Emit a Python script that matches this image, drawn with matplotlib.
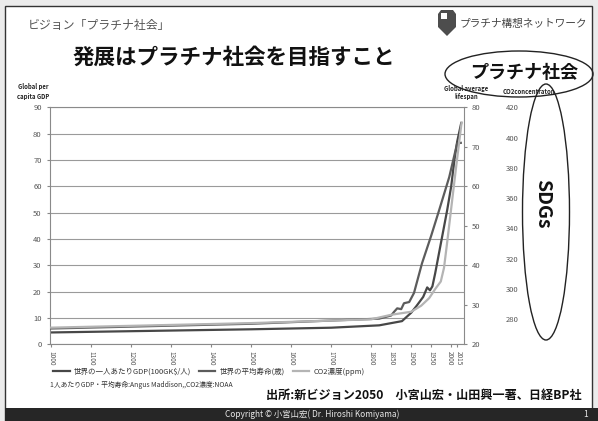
import matplotlib
matplotlib.use("Agg")
import matplotlib.pyplot as plt
import matplotlib.transforms as mtransforms
from matplotlib.patches import Ellipse, Rectangle, Polygon

plt.rcParams['font.family'] = ['Noto Sans CJK JP', 'DejaVu Sans']

# values
gdp_years = [1000, 1500, 1600, 1700, 1820, 1877, 1900, 1913, 1930, 1940, 1947, 1953,
             1960, 1970, 1980, 1990, 2000, 2008, 2015, 2025]
gdp_values = [4.5, 5.7, 6.0, 6.3, 7.2, 8.8, 12.0, 14.5, 18.0, 21.6, 20.5, 22.0,
              27.0, 35.0, 43.0, 51.0, 60.0, 70.0, 77.0, 84.0]

life_years = [1000, 1500, 1820, 1850, 1857, 1865, 1875, 1882, 1895, 1907, 1927,
              1950, 1970, 1995, 2015, 2024]
life_values = [24.0, 25.2, 26.5, 27.3, 28.2, 29.1, 28.9, 30.4, 30.7, 33.0, 40.5,
               47.5, 54.0, 62.3, 70.9, 71.0]

co2_years = [1000, 1500, 1800, 1850, 1900, 1925, 1945, 1960, 1974, 1982, 1990,
             1999, 2012, 2026]
co2_values = [274.5, 277.5, 280.0, 283.0, 285.0, 289.0, 294.0, 300.0, 305.0, 314.0,
              331.0, 351.0, 380.0, 410.0]

x_ticks = [1000, 1100, 1200, 1300, 1400, 1500, 1600, 1700, 1800,
           1850, 1900, 1950, 2000, 2015]
gdp_ticks = list(range(0, 100, 10))
life_ticks = list(range(20, 90, 10))
co2_ticks = list(range(280, 440, 20))

legend_labels = ['世界の一人あたりGDP(100GK$/人)', '世界の平均寿命(歳)', 'CO2濃度(ppm)']

W, H = 598, 421
fig = plt.figure(figsize=(W / 100, H / 100), dpi=100, facecolor='#ebebeb')


def fx(x):
    return x / W


def fy(y):
    return 1 - y / H


# slide frame and footer bar
fig.patches.append(Rectangle((fx(5), 0), fx(592) - fx(5), fy(6), transform=fig.transFigure,
                             facecolor='white', edgecolor='#333333', lw=1.0, zorder=-5))
fig.patches.append(Rectangle((fx(5), 0), 1 - fx(5), fy(408), transform=fig.transFigure,
                             facecolor='#262626', edgecolor='none', zorder=-4))

# map pin logo
pin = [(438, 14), (441, 10), (453, 10), (456, 14), (456, 27), (447, 36), (438, 27)]
fig.patches.append(Polygon([(fx(a), fy(b)) for a, b in pin], closed=True, transform=fig.transFigure,
                           facecolor='#4d4d4d', edgecolor='none', zorder=2))
fig.patches.append(Rectangle((fx(441), fy(19)), fx(6), fx(6) * W / H, transform=fig.transFigure,
                             facecolor='white', edgecolor='none', zorder=3))

# axes
ax = fig.add_axes([fx(50), fy(344.3), (464 - 50) / W, (344.3 - 107.3) / H])
ax.set_facecolor('none')
ax.plot(gdp_years, gdp_values, color='#474747', lw=1.6, label=legend_labels[0])
ax.set_xlim(997, 2032)
ax.set_ylim(0, 90)
ax.set_yticks(gdp_ticks)
ax.set_xticks(x_ticks)
ax.set_xticklabels([str(t) for t in x_ticks], rotation=270, fontsize=4.6, color='#555555')
ax.tick_params(axis='y', labelsize=5.5, labelcolor='#555555', length=2, pad=4, color='#888888')
ax.tick_params(axis='x', length=2.5, pad=2, color='#888888')
ax.grid(axis='y', color='#9a9a9a', lw=0.8)
ax.set_axisbelow(True)
for s in ['left', 'bottom', 'top']:
    ax.spines[s].set_color('#8a8a8a')
ax.spines['right'].set_visible(False)

# nudge the two crowded labels apart
xlabels = ax.get_xticklabels()
xlabels[-2].set_transform(xlabels[-2].get_transform()
                          + mtransforms.ScaledTranslation(-1.2 / 100, 0, fig.dpi_scale_trans))
xlabels[-1].set_transform(xlabels[-1].get_transform()
                          + mtransforms.ScaledTranslation(1.2 / 100, 0, fig.dpi_scale_trans))

ax2 = ax.twinx()
ax2.plot(life_years, life_values, color='#5c5c5c', lw=1.6, label=legend_labels[1])
ax2.set_ylim(20, 80)
ax2.set_yticks(life_ticks)
ax2.tick_params(axis='y', labelsize=5.5, labelcolor='#555555', length=2.5, pad=3, color='#888888')
ax2.spines['right'].set_color('#8a8a8a')
for s in ['left', 'bottom', 'top']:
    ax2.spines[s].set_visible(False)

ax3 = ax.twinx()
ax3.plot(co2_years, co2_values, color='#b4b4b4', lw=1.6, label=legend_labels[2])
ax3.set_ylim(263.5, 419.6)
ax3.set_yticks(co2_ticks)
ax3.tick_params(axis='y', labelsize=5.5, labelcolor='#555555', length=0, pad=30)
for s in ax3.spines.values():
    s.set_visible(False)

# axis titles
fig.text(fx(33), fy(86), 'Global per', fontsize=4.3, weight='bold', ha='center', va='center', color='#222222')
fig.text(fx(33), fy(97), 'capita GDP', fontsize=4.3, weight='bold', ha='center', va='center', color='#222222')
fig.text(fx(466), fy(88), 'Global average', fontsize=4.3, weight='bold', ha='center', va='center', color='#222222')
fig.text(fx(466), fy(96), 'lifespan', fontsize=4.3, weight='bold', ha='center', va='center', color='#222222')
fig.text(fx(529), fy(92), 'CO2concentraton', fontsize=4.3, weight='bold', ha='center', va='center', color='#222222')

# legend and notes
handles = ax.get_lines() + ax2.get_lines() + ax3.get_lines()
fig.legend(handles, legend_labels, loc='center left', bbox_to_anchor=(fx(53), fy(372)), ncol=3,
           frameon=False, fontsize=5.4, handlelength=2.2, columnspacing=1.0, handletextpad=0.6,
           labelcolor='#333333', borderaxespad=0, borderpad=0)
fig.text(fx(50), fy(385), '1人あたりGDP・平均寿命:Angus Maddison,,CO2濃度:NOAA', fontsize=4.9,
         ha='left', va='center', color='#333333')
fig.text(fx(582), fy(395), '出所:新ビジョン2050　小宮山宏・山田興一著、日経BP社', fontsize=8.7,
         weight='bold', ha='right', va='center', color='#111111')
fig.text(fx(312), fy(414.5), 'Copyright © 小宮山宏( Dr. Hiroshi Komiyama)', fontsize=6,
         ha='center', va='center', color='#e8e8e8')
fig.text(fx(586), fy(414.5), '1', fontsize=6, ha='center', va='center', color='#e8e8e8')

# headings
fig.text(fx(28), fy(25), 'ビジョン「プラチナ社会」', fontsize=8.6, ha='left', va='center', color='#555555')
fig.text(fx(73), fy(57.5), '発展はプラチナ社会を目指すこと', fontsize=15.5, weight='bold',
         ha='left', va='center', color='#111111')
fig.text(fx(460), fy(24), 'プラチナ構想ネットワーク', fontsize=7.7, ha='left', va='center', color='#444444')

# ellipses
fig.patches.append(Ellipse((fx(519), fy(74)), 148 / W, 46 / H, transform=fig.transFigure,
                           facecolor='none', edgecolor='#222222', lw=1.0, zorder=5))
fig.text(fx(524), fy(73), 'プラチナ社会', fontsize=13, weight='bold', ha='center', va='center', color='#111111')
fig.patches.append(Ellipse((fx(546), fy(212)), 47 / W, 256 / H, transform=fig.transFigure,
                           facecolor='none', edgecolor='#222222', lw=1.0, zorder=5))
fig.text(fx(543), fy(204), 'SDGs', fontsize=14, weight='bold', rotation=270, ha='center', va='center',
         color='#111111')

fig.savefig('out.png', dpi=100, facecolor=fig.get_facecolor())
